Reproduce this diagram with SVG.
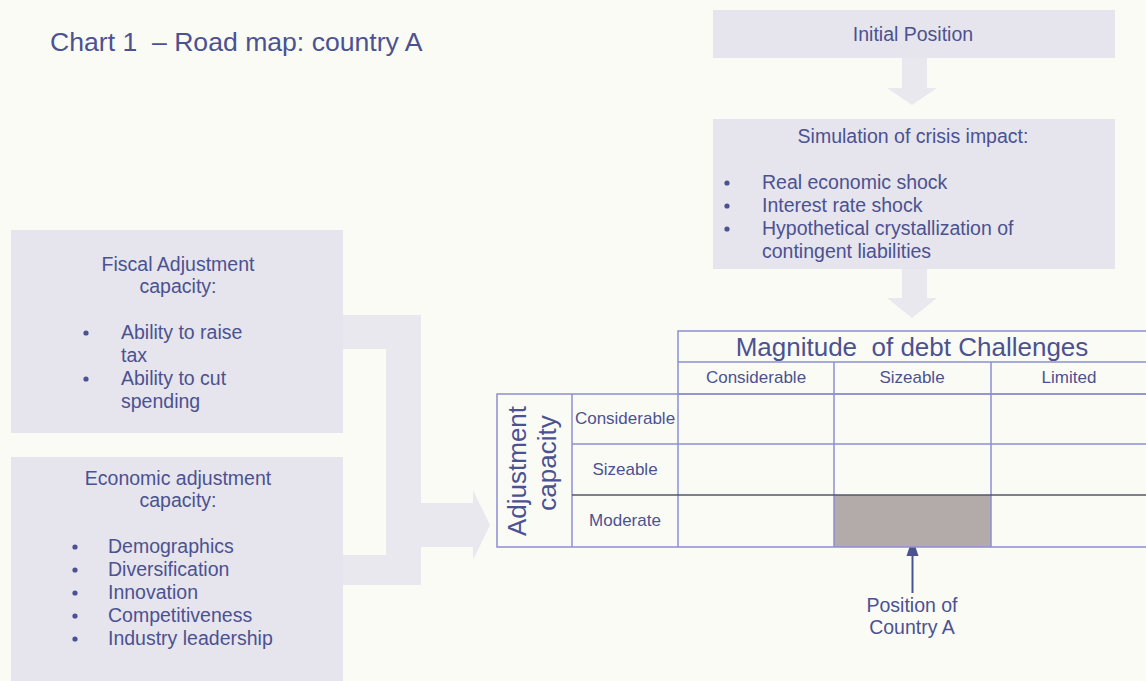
<svg xmlns="http://www.w3.org/2000/svg" width="1146" height="681" viewBox="0 0 1146 681">
<style>
text{font-family:"Liberation Sans",Arial,sans-serif;fill:#4b5291}
.t{font-size:19.5px}
.c{text-anchor:middle}
.box{fill:#e6e4ec}
.arr{fill:#eae8ef}
.tl{fill:none;stroke:#8d8fd0;stroke-width:1.5}
.tc{font-size:17px;text-anchor:middle}
.big{font-size:26px}
.ttl{font-size:26.6px}
.dot{fill:#4b5291}
</style>
<rect width="1146" height="681" fill="#fbfbf6"/>
<text x="50" y="51" class="ttl" xml:space="preserve">Chart 1  – Road map: country A</text>

<g id="connectors">
<path class="arr" d="M902,58 H927 V88 H937 L912,105 L887,88 H902 Z"/>
<path class="arr" d="M902,268 H927 V298 H937 L912,318 L887,298 H902 Z"/>
<path class="arr" d="M343,315 H421 V585 H343 V555 H386 V349 H343 Z"/>
<path class="arr" d="M421,503 H473 V490 L490,525 L473,560 V547 H421 Z"/>
<g id="position-arrow">
<line x1="912.5" y1="593" x2="912.5" y2="552" stroke="#4b5291" stroke-width="2"/>
<path d="M912.5,538 L918.5,556 H906.5 Z" fill="#4b5291"/>
</g>
</g>

<g id="initial">
<rect class="box" x="713" y="10" width="402" height="48"/>
<text x="913" y="41" class="t c">Initial Position</text>
</g>

<g id="simulation">
<rect class="box" x="713" y="119" width="402" height="150"/>
<text x="913" y="143" class="t c">Simulation of crisis impact:</text>
<circle class="dot" cx="727" cy="183" r="2.6"/>
<circle class="dot" cx="727" cy="206" r="2.6"/>
<circle class="dot" cx="727" cy="229" r="2.6"/>
<text x="762" y="189" class="t">Real economic shock</text>
<text x="762" y="212" class="t">Interest rate shock</text>
<text x="762" y="235" class="t">Hypothetical crystallization of</text>
<text x="762" y="258" class="t">contingent liabilities</text>
</g>

<g id="fiscal">
<rect class="box" x="11" y="230" width="332" height="203"/>
<text x="178" y="271" class="t c">Fiscal Adjustment</text>
<text x="178" y="293" class="t c">capacity:</text>
<circle class="dot" cx="86" cy="333" r="2.6"/>
<circle class="dot" cx="86" cy="379" r="2.6"/>
<text x="121" y="339" class="t">Ability to raise</text>
<text x="121" y="362" class="t">tax</text>
<text x="121" y="385" class="t">Ability to cut</text>
<text x="121" y="408" class="t">spending</text>
</g>

<g id="economic">
<rect class="box" x="11" y="457" width="332" height="224"/>
<text x="178" y="485" class="t c">Economic adjustment</text>
<text x="178" y="507" class="t c">capacity:</text>
<circle class="dot" cx="75" cy="547" r="2.6"/>
<circle class="dot" cx="75" cy="570" r="2.6"/>
<circle class="dot" cx="75" cy="593" r="2.6"/>
<circle class="dot" cx="75" cy="616" r="2.6"/>
<circle class="dot" cx="75" cy="639" r="2.6"/>
<text x="108" y="553" class="t">Demographics</text>
<text x="108" y="576" class="t">Diversification</text>
<text x="108" y="599" class="t">Innovation</text>
<text x="108" y="622" class="t">Competitiveness</text>
<text x="108" y="645" class="t">Industry leadership</text>
</g>

<g id="matrix">
<rect x="834" y="495" width="157" height="52" fill="#b3abaa"/>
<rect class="tl" x="678" y="331" width="472" height="63"/>
<line class="tl" x1="678" y1="362" x2="1150" y2="362"/>
<rect class="tl" x="497" y="394" width="653" height="153"/>
<line class="tl" x1="834" y1="362" x2="834" y2="547"/>
<line class="tl" x1="991" y1="362" x2="991" y2="547"/>
<line class="tl" x1="572" y1="394" x2="572" y2="547"/>
<line class="tl" x1="678" y1="394" x2="678" y2="547"/>
<line class="tl" x1="572" y1="444" x2="1150" y2="444"/>
<line x1="572" y1="495" x2="1150" y2="495" stroke="#55566a" stroke-width="1.5"/>
<text x="912" y="356" class="big c" xml:space="preserve">Magnitude  of debt Challenges</text>
<text x="756" y="383" class="tc">Considerable</text>
<text x="912" y="383" class="tc">Sizeable</text>
<text x="1069" y="383" class="tc">Limited</text>
<text x="625" y="424" class="tc">Considerable</text>
<text x="625" y="475" class="tc">Sizeable</text>
<text x="625" y="526" class="tc">Moderate</text>
<text class="big c" transform="translate(526,471) rotate(-90)">Adjustment</text>
<text class="big c" transform="translate(556,463) rotate(-90)">capacity</text>
</g>

<g id="position-label">
<text x="912" y="612" class="t c">Position of</text>
<text x="912" y="634" class="t c">Country A</text>
</g>
</svg>
